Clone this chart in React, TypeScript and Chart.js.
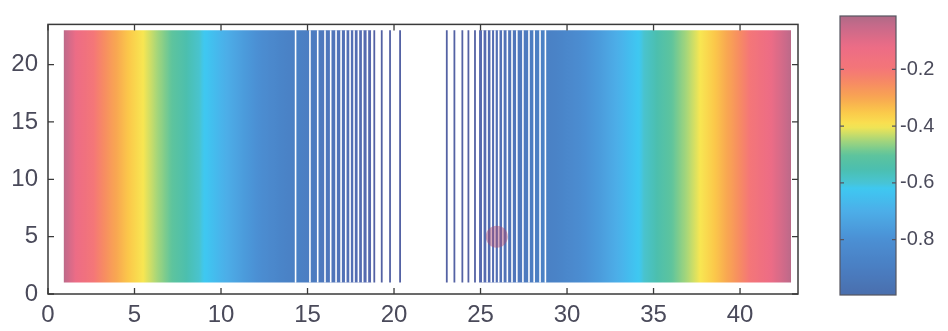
import React, { useEffect, useRef } from 'react';
import { Chart, registerables } from 'chart.js';

Chart.register(...registerables);

// ---------- data ----------
const xTicks = [0, 5, 10, 15, 20, 25, 30, 35, 40];
const yTicks = [0, 5, 10, 15, 20];
const colorbarTicks = [-0.2, -0.4, -0.6, -0.8];

const xRange = [0, 43.35];
const yRange = [0, 23.5];
const cellRange = [1, 23];
const colorRange = [-0.995, -0.012];

// smooth field on the left and right (x position -> value)
const leftProfileX = [0.9, 1.6, 2.5, 3.5, 4.5, 5.5, 6.3, 7.3, 8.7, 8.9, 10.0, 11.3, 12.8, 14.31];
const leftProfileV = [-0.03, -0.12, -0.19, -0.27, -0.34, -0.4, -0.45, -0.51, -0.59, -0.61, -0.68, -0.76, -0.84, -0.89];
const rightProfileX = [28.75, 30.3, 31.9, 33.2, 34.3, 34.5, 35.9, 36.9, 37.7, 38.7, 39.7, 40.7, 41.8, 42.95];
const rightProfileV = [-0.89, -0.84, -0.76, -0.68, -0.61, -0.59, -0.51, -0.45, -0.4, -0.34, -0.27, -0.19, -0.12, -0.03];

// dense blue bands with white separators
const leftBand = [14.31, 18.7];
const rightBand = [24.9, 28.75];
const whiteLinesLeft = [14.31, 15.14, 15.59, 16.01, 16.34, 16.65, 16.94, 17.21, 17.46, 17.69, 17.94, 18.19, 18.46, 18.72];
const whiteLinesRight = [24.87, 25.13, 25.38, 25.62, 25.83, 26.05, 26.29, 26.55, 26.82, 27.1, 27.45, 27.8, 28.1, 28.44, 28.75];
// isolated thin lines in the white gap
const blueLinesLeft = [18.86, 19.29, 19.77, 20.35];
const blueLinesRight = [23.05, 23.49, 23.95, 24.3, 24.68];

const markerPoints = [{ x: 25.94, y: 5.0 }];

// ---------- styles ----------
const CMAP: [number, string][] = [
  [-1.0, '#4a6eac'],
  [-0.9, '#4a7ec2'],
  [-0.8, '#4b90d4'],
  [-0.7, '#4caee8'],
  [-0.62, '#3ec8f2'],
  [-0.6, '#48c4d4'],
  [-0.55, '#4cbfae'],
  [-0.5, '#5fc49c'],
  [-0.45, '#a6d67a'],
  [-0.4, '#f8e652'],
  [-0.35, '#fbc84a'],
  [-0.3, '#f8a652'],
  [-0.25, '#f78c62'],
  [-0.2, '#f47678'],
  [-0.12, '#ec6c86'],
  [-0.05, '#c86a8a'],
  [0.0, '#a86a86'],
];

function hexToRgb(h: string) {
  const n = parseInt(h.slice(1), 16);
  return [(n >> 16) & 255, (n >> 8) & 255, n & 255];
}

function cmapColor(v: number): string {
  if (v <= CMAP[0][0]) return CMAP[0][1];
  for (let i = 0; i < CMAP.length - 1; i++) {
    const [v0, c0] = CMAP[i];
    const [v1, c1] = CMAP[i + 1];
    if (v >= v0 && v <= v1) {
      const t = (v - v0) / (v1 - v0);
      const a = hexToRgb(c0);
      const b = hexToRgb(c1);
      const r = a.map((av, k) => Math.round(av + (b[k] - av) * t));
      return `rgb(${r[0]},${r[1]},${r[2]})`;
    }
  }
  return CMAP[CMAP.length - 1][1];
}

function fieldGradient(chart: any, xs: number[], vs: number[]) {
  const { ctx, chartArea, scales } = chart;
  if (!chartArea) return cmapColor(vs[0]);
  const sx = scales.x;
  const p0 = sx.getPixelForValue(xs[0]);
  const p1 = sx.getPixelForValue(xs[xs.length - 1]);
  const g = ctx.createLinearGradient(p0, 0, p1, 0);
  const steps = 8;
  for (let i = 0; i < xs.length - 1; i++) {
    for (let k = 0; k < steps; k++) {
      const t = k / steps;
      const xv = xs[i] + (xs[i + 1] - xs[i]) * t;
      const vv = vs[i] + (vs[i + 1] - vs[i]) * t;
      const off = (sx.getPixelForValue(xv) - p0) / (p1 - p0);
      g.addColorStop(Math.min(1, Math.max(0, off)), cmapColor(vv));
    }
  }
  g.addColorStop(1, cmapColor(vs[vs.length - 1]));
  return g;
}

function bandGradient(chart: any, band: number[], outerAtStart: boolean) {
  const { ctx, chartArea, scales } = chart;
  const outer = '#4a82c6';
  const inner = '#5668ae';
  if (!chartArea) return outer;
  const sx = scales.x;
  const g = ctx.createLinearGradient(sx.getPixelForValue(band[0]), 0, sx.getPixelForValue(band[1]), 0);
  g.addColorStop(0, outerAtStart ? outer : inner);
  g.addColorStop(1, outerAtStart ? inner : outer);
  return g;
}

const vLines = (xs: number[]) =>
  xs.flatMap((x) => [
    { x, y: cellRange[0] },
    { x, y: cellRange[1] },
    { x, y: null as any },
  ]);

const rect = (x0: number, x1: number) => [
  { x: x0, y: cellRange[1] },
  { x: x1, y: cellRange[1] },
];

const TEXT = '#4a4a5a';
const FONT = "'Liberation Sans', Arial, sans-serif";

const mainBox = {
  id: 'mainBox',
  afterDraw(chart: any) {
    const { ctx, chartArea, scales } = chart;
    const { left, right, top, bottom } = chartArea;
    ctx.save();
    ctx.strokeStyle = '#3a3a3a';
    ctx.lineWidth = 1.5;
    ctx.strokeRect(left, top, right - left, bottom - top);
    ctx.lineWidth = 1.3;
    ctx.beginPath();
    xTicks.forEach((v) => {
      const p = scales.x.getPixelForValue(v);
      ctx.moveTo(p, bottom);
      ctx.lineTo(p, bottom - 6);
      ctx.moveTo(p, top);
      ctx.lineTo(p, top + 6);
    });
    yTicks.forEach((v) => {
      const p = scales.y.getPixelForValue(v);
      ctx.moveTo(left, p);
      ctx.lineTo(left + 6, p);
      ctx.moveTo(right, p);
      ctx.lineTo(right - 6, p);
    });
    ctx.stroke();
    ctx.restore();
  },
};

const cbBox = {
  id: 'cbBox',
  afterDraw(chart: any) {
    const { ctx, chartArea, scales } = chart;
    const { left, right, top, bottom } = chartArea;
    ctx.save();
    ctx.strokeStyle = '#555560';
    ctx.lineWidth = 1.2;
    ctx.strokeRect(left, top, right - left, bottom - top);
    ctx.beginPath();
    colorbarTicks.forEach((v) => {
      const p = scales.y.getPixelForValue(v);
      ctx.moveTo(left, p);
      ctx.lineTo(left + 4, p);
      ctx.moveTo(right, p);
      ctx.lineTo(right - 4, p);
    });
    ctx.stroke();
    ctx.restore();
  },
};

export default function App() {
  const mainRef = useRef<HTMLCanvasElement>(null);
  const cbRef = useRef<HTMLCanvasElement>(null);

  useEffect(() => {
    const fillDs = (data: any[], bg: any, order: number) => ({
      type: 'line',
      data,
      fill: { value: cellRange[0] },
      backgroundColor: bg,
      borderWidth: 0,
      pointRadius: 0,
      order,
    });

    const main = new Chart(mainRef.current!, {
      type: 'line',
      data: {
        datasets: [
          fillDs(rect(leftProfileX[0], leftProfileX[leftProfileX.length - 1]),
            (c: any) => fieldGradient(c.chart, leftProfileX, leftProfileV), 10),
          fillDs(rect(rightProfileX[0], rightProfileX[rightProfileX.length - 1]),
            (c: any) => fieldGradient(c.chart, rightProfileX, rightProfileV), 10),
          fillDs(rect(leftBand[0], leftBand[1]), (c: any) => bandGradient(c.chart, leftBand, true), 9),
          fillDs(rect(rightBand[0], rightBand[1]), (c: any) => bandGradient(c.chart, rightBand, false), 9),
          {
            type: 'line',
            data: vLines([...whiteLinesLeft, ...whiteLinesRight]),
            borderColor: '#ffffff',
            borderWidth: 1.6,
            pointRadius: 0,
            fill: false,
            spanGaps: false,
            order: 5,
          },
          {
            type: 'line',
            data: vLines([...blueLinesLeft, ...blueLinesRight]),
            borderColor: '#5462a4',
            borderWidth: 1.8,
            pointRadius: 0,
            fill: false,
            spanGaps: false,
            order: 4,
          },
          {
            type: 'scatter',
            data: markerPoints,
            pointRadius: 11,
            pointBackgroundColor: 'rgba(170,70,110,0.45)',
            pointBorderWidth: 0,
            order: 1,
          },
        ] as any,
      },
      options: {
        responsive: true,
        maintainAspectRatio: false,
        animation: false,
        parsing: true,
        layout: { padding: { top: 9, right: 22, left: 0, bottom: 0 } },
        plugins: { legend: { display: false }, tooltip: { enabled: false } },
        scales: {
          x: {
            type: 'linear',
            min: xRange[0],
            max: xRange[1],
            grid: { display: false, drawTicks: false },
            border: { display: false },
            ticks: {
              includeBounds: false,
              padding: 7,
              color: TEXT,
              font: { family: FONT, size: 24 },
              maxRotation: 0,
              autoSkip: false,
            },
            afterBuildTicks: (s: any) => {
              s.ticks = xTicks.map((v) => ({ value: v }));
            },
            afterFit: (s: any) => {
              s.height = 37;
            },
          },
          y: {
            type: 'linear',
            min: yRange[0],
            max: yRange[1],
            grid: { display: false, drawTicks: false },
            border: { display: false },
            ticks: {
              includeBounds: false,
              padding: 10,
              color: TEXT,
              font: { family: FONT, size: 24 },
              autoSkip: false,
            },
            afterBuildTicks: (s: any) => {
              s.ticks = yTicks.map((v) => ({ value: v }));
            },
            afterFit: (s: any) => {
              s.width = 48;
            },
          },
        },
      } as any,
      plugins: [mainBox],
    });

    const cb = new Chart(cbRef.current!, {
      type: 'bar',
      data: {
        labels: ['cb'],
        datasets: [
          {
            data: [colorRange] as any,
            barPercentage: 1,
            categoryPercentage: 1,
            borderWidth: 0,
            backgroundColor: (c: any) => {
              const { ctx, chartArea, scales } = c.chart;
              if (!chartArea) return cmapColor(-0.5);
              const y0 = scales.y.getPixelForValue(colorRange[0]);
              const y1 = scales.y.getPixelForValue(colorRange[1]);
              const g = ctx.createLinearGradient(0, y0, 0, y1);
              const n = 60;
              for (let i = 0; i <= n; i++) {
                const v = colorRange[0] + ((colorRange[1] - colorRange[0]) * i) / n;
                g.addColorStop(i / n, cmapColor(v));
              }
              return g;
            },
          },
        ],
      },
      options: {
        responsive: true,
        maintainAspectRatio: false,
        animation: false,
        layout: { padding: { top: 7, right: 0, left: 20, bottom: 36 } },
        plugins: { legend: { display: false }, tooltip: { enabled: false } },
        scales: {
          x: { display: false },
          y: {
            position: 'right',
            min: colorRange[0],
            max: colorRange[1],
            grid: { display: false, drawTicks: false },
            border: { display: false },
            ticks: {
              includeBounds: false,
              padding: 4,
              color: TEXT,
              font: { family: FONT, size: 20 },
              callback: (v: any) => Number(v).toFixed(1),
            },
            afterBuildTicks: (s: any) => {
              s.ticks = colorbarTicks.map((v) => ({ value: v }));
            },
            afterFit: (s: any) => {
              s.width = 52;
            },
          },
        },
      } as any,
      plugins: [cbBox],
    });

    return () => {
      main.destroy();
      cb.destroy();
    };
  }, []);

  return (
    <div style={{ position: 'fixed', left: 0, top: 0, width: 948, height: 331, background: '#ffffff' }}>
      <div style={{ position: 'absolute', left: 0, top: 0, width: 820, height: 331 }}>
        <canvas ref={mainRef} />
      </div>
      <div style={{ position: 'absolute', left: 820, top: 0, width: 128, height: 331 }}>
        <canvas ref={cbRef} />
      </div>
    </div>
  );
}
